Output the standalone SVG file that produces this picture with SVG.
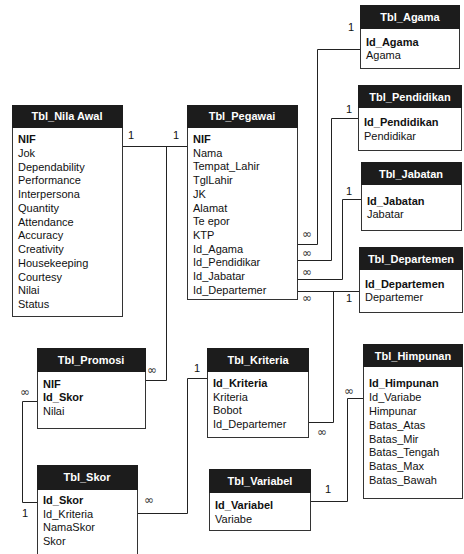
<svg xmlns="http://www.w3.org/2000/svg" width="464" height="554" viewBox="0 0 464 554">
<style>
.box{fill:#fff;stroke:#333;stroke-width:1}
.hdr{fill:#1c1c1c}
.ht{font-family:"Liberation Sans",Arial,sans-serif;font-size:11px;font-weight:bold;fill:#fff;text-anchor:middle}
.t{font-family:"Liberation Sans",Arial,sans-serif;font-size:11px;fill:#111}
.b{font-weight:bold}
.c{fill:none;stroke:#222;stroke-width:1}
.lbl{font-family:"Liberation Sans",Arial,sans-serif;font-size:11px;fill:#111}
.inf{font-family:"DejaVu Sans",sans-serif;font-size:12px;fill:#333}
</style>
<rect width="464" height="554" fill="#fff"/>
<g id="connectors">
<path class="c" d="M122 146.5H187"/>
<path class="c" d="M166.5 146.5V380.5H145"/>
<path class="c" d="M297 244.5H317.5V49.5H360"/>
<path class="c" d="M297 260.5H331.5V118.5H358"/>
<path class="c" d="M297 279.5H342.5V199.5H361"/>
<path class="c" d="M297 291.5H359"/>
<path class="c" d="M309 422.5H333.5V291.5"/>
<path class="c" d="M37 401.5H22.5V502.5H37"/>
<path class="c" d="M137 513.5H187.5V378.5H207"/>
<path class="c" d="M311 501.5H347.5V398.5H363"/>
<text class="lbl" x="128" y="139">1</text>
<text class="lbl" x="173" y="139">1</text>
<text class="inf" x="147" y="374">∞</text>
<text class="inf" x="302" y="238">∞</text>
<text class="lbl" x="348" y="31">1</text>
<text class="inf" x="302" y="257">∞</text>
<text class="lbl" x="346" y="113">1</text>
<text class="inf" x="302" y="276">∞</text>
<text class="lbl" x="346" y="195">1</text>
<text class="inf" x="302" y="302">∞</text>
<text class="lbl" x="346" y="302">1</text>
<text class="inf" x="317" y="436">∞</text>
<text class="inf" x="20" y="396">∞</text>
<text class="lbl" x="22" y="517">1</text>
<text class="inf" x="144" y="504">∞</text>
<text class="lbl" x="194" y="372">1</text>
<text class="lbl" x="325" y="493">1</text>
<text class="inf" x="344" y="395">∞</text>
</g>
<g id="Tbl_Nila_Awal">
<rect class="box" x="12.5" y="105.5" width="110" height="211"/>
<rect class="hdr" x="12" y="105" width="111" height="23"/>
<text class="ht" x="67" y="120">Tbl_Nila Awal</text>
<text class="t b" x="18" y="143">NIF</text>
<text class="t" x="18" y="156.75">Jok</text>
<text class="t" x="18" y="170.5">Dependability</text>
<text class="t" x="18" y="184.25">Performance</text>
<text class="t" x="18" y="198">Interpersona</text>
<text class="t" x="18" y="211.75">Quantity</text>
<text class="t" x="18" y="225.5">Attendance</text>
<text class="t" x="18" y="239.25">Accuracy</text>
<text class="t" x="18" y="253">Creativity</text>
<text class="t" x="18" y="266.75">Housekeeping</text>
<text class="t" x="18" y="280.5">Courtesy</text>
<text class="t" x="18" y="294.25">Nilai</text>
<text class="t" x="18" y="308">Status</text>
</g>
<g id="Tbl_Pegawai">
<rect class="box" x="187.5" y="105.5" width="110" height="194"/>
<rect class="hdr" x="187" y="105" width="111" height="23"/>
<text class="ht" x="242" y="120">Tbl_Pegawai</text>
<text class="t b" x="193" y="143">NIF</text>
<text class="t" x="193" y="156.7">Nama</text>
<text class="t" x="193" y="170.4">Tempat_Lahir</text>
<text class="t" x="193" y="184.1">TglLahir</text>
<text class="t" x="193" y="197.8">JK</text>
<text class="t" x="193" y="211.5">Alamat</text>
<text class="t" x="193" y="225.2">Te epor</text>
<text class="t" x="193" y="238.9">KTP</text>
<text class="t" x="193" y="252.6">Id_Agama</text>
<text class="t" x="193" y="266.3">Id_Pendidikar</text>
<text class="t" x="193" y="280">Id_Jabatar</text>
<text class="t" x="193" y="293.7">Id_Departemer</text>
</g>
<g id="Tbl_Agama">
<rect class="box" x="360.5" y="5.5" width="99" height="63"/>
<rect class="hdr" x="360" y="5" width="100" height="24"/>
<text class="ht" x="410" y="21">Tbl_Agama</text>
<text class="t b" x="366" y="46">Id_Agama</text>
<text class="t" x="366" y="59">Agama</text>
</g>
<g id="Tbl_Pendidikan">
<rect class="box" x="358.5" y="85.5" width="103" height="65"/>
<rect class="hdr" x="358" y="85" width="104" height="23"/>
<text class="ht" x="410" y="101">Tbl_Pendidikan</text>
<text class="t b" x="364" y="126">Id_Pendidikan</text>
<text class="t" x="364" y="140">Pendidikar</text>
</g>
<g id="Tbl_Jabatan">
<rect class="box" x="361.5" y="162.5" width="100" height="68"/>
<rect class="hdr" x="361" y="162" width="101" height="23"/>
<text class="ht" x="411" y="178">Tbl_Jabatan</text>
<text class="t b" x="367" y="205">Id_Jabatan</text>
<text class="t" x="367" y="218">Jabatar</text>
</g>
<g id="Tbl_Departemen">
<rect class="box" x="359.5" y="247.5" width="103" height="65"/>
<rect class="hdr" x="359" y="247" width="104" height="23"/>
<text class="ht" x="411" y="263">Tbl_Departemen</text>
<text class="t b" x="365" y="288">Id_Departemen</text>
<text class="t" x="365" y="301">Departemer</text>
</g>
<g id="Tbl_Promosi">
<rect class="box" x="37.5" y="348.5" width="108" height="80"/>
<rect class="hdr" x="37" y="348" width="109" height="24"/>
<text class="ht" x="91" y="364">Tbl_Promosi</text>
<text class="t b" x="43" y="388">NIF</text>
<text class="t b" x="43" y="401">Id_Skor</text>
<text class="t" x="43" y="415">Nilai</text>
</g>
<g id="Tbl_Kriteria">
<rect class="box" x="207.5" y="348.5" width="101" height="89"/>
<rect class="hdr" x="207" y="348" width="102" height="24"/>
<text class="ht" x="258" y="364">Tbl_Kriteria</text>
<text class="t b" x="213" y="387">Id_Kriteria</text>
<text class="t" x="213" y="401">Kriteria</text>
<text class="t" x="213" y="414">Bobot</text>
<text class="t" x="213" y="428">Id_Departemer</text>
</g>
<g id="Tbl_Himpunan">
<rect class="box" x="363.5" y="344.5" width="99" height="154"/>
<rect class="hdr" x="363" y="344" width="100" height="23"/>
<text class="ht" x="413" y="360">Tbl_Himpunan</text>
<text class="t b" x="369" y="387">Id_Himpunan</text>
<text class="t" x="369" y="401">Id_Variabe</text>
<text class="t" x="369" y="415">Himpunar</text>
<text class="t" x="369" y="429">Batas_Atas</text>
<text class="t" x="369" y="443">Batas_Mir</text>
<text class="t" x="369" y="456">Batas_Tengah</text>
<text class="t" x="369" y="470">Batas_Max</text>
<text class="t" x="369" y="484">Batas_Bawah</text>
</g>
<g id="Tbl_Skor">
<rect class="box" x="37.5" y="465.5" width="100" height="100"/>
<rect class="hdr" x="37" y="465" width="101" height="25"/>
<text class="ht" x="87" y="481">Tbl_Skor</text>
<text class="t b" x="43" y="504">Id_Skor</text>
<text class="t" x="43" y="518">Id_Kriteria</text>
<text class="t" x="43" y="531">NamaSkor</text>
<text class="t" x="43" y="545">Skor</text>
</g>
<g id="Tbl_Variabel">
<rect class="box" x="209.5" y="469.5" width="101" height="61"/>
<rect class="hdr" x="209" y="469" width="102" height="24"/>
<text class="ht" x="260" y="485">Tbl_Variabel</text>
<text class="t b" x="215" y="509">Id_Variabel</text>
<text class="t" x="215" y="523">Variabe</text>
</g>
</svg>
